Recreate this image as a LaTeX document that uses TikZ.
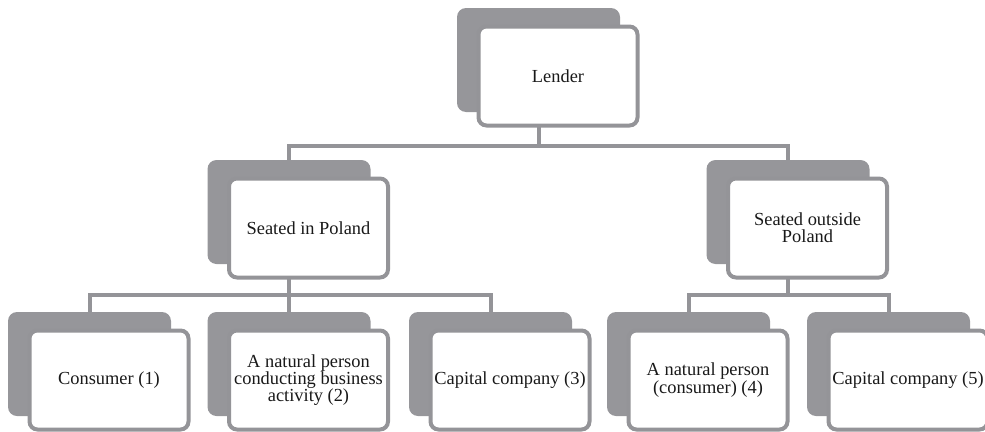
\documentclass[tikz,border=0pt]{standalone}
\usepackage{fontspec}
\setmainfont{Liberation Serif}
\usetikzlibrary{backgrounds}
\definecolor{boxgray}{RGB}{150,150,154}
\definecolor{linegray}{RGB}{148,148,152}
\tikzset{
 backbox/.style={rectangle, rounded corners=9pt, fill=boxgray, minimum width=163pt, minimum height=104pt, inner sep=0pt, outer sep=0pt},
 frontbox/.style={rectangle, rounded corners=8pt, draw=linegray, line width=4pt, fill=white, minimum width=159pt, minimum height=99pt, inner sep=0pt, outer sep=0pt, align=center, text=black!90, font=\fontsize{18.4}{17.3}\selectfont},
 conn/.style={draw=linegray, line width=4pt}
}
\begin{document}
\begin{tikzpicture}[x=1pt,y=-1pt]
\useasboundingbox (0,0) rectangle (985,431);
% back boxes
\node[backbox] (lenderB) at (538.5,60) {};
\node[backbox] (plB) at (289,212) {};
\node[backbox] (opB) at (788,212) {};
\node[backbox] (c1B) at (89.5,364) {};
\node[backbox] (c2B) at (289,364) {};
\node[backbox] (c3B) at (490.5,364) {};
\node[backbox] (c4B) at (688.5,364) {};
\node[backbox] (c5B) at (888.5,364) {};
% front boxes
\node[frontbox, xshift=19.5pt, yshift=-16pt] (lenderF) at (lenderB.center) {Lender};
\node[frontbox, xshift=19.5pt, yshift=-16pt] (plF) at (plB.center) {Seated in Poland};
\node[frontbox, xshift=19.5pt, yshift=-16pt] (opF) at (opB.center) {Seated outside\\Poland};
\node[frontbox, xshift=19.5pt, yshift=-16pt] (c1F) at (c1B.center) {Consumer (1)};
\node[frontbox, xshift=19.5pt, yshift=-16pt] (c2F) at (c2B.center) {A natural person\\conducting business\\activity (2)};
\node[frontbox, xshift=19.5pt, yshift=-16pt] (c3F) at (c3B.center) {Capital company (3)};
\node[frontbox, xshift=19.5pt, yshift=-16pt] (c4F) at (c4B.center) {A natural person\\(consumer) (4)};
\node[frontbox, xshift=19.5pt, yshift=-16pt] (c5F) at (c5B.center) {Capital company (5)};
% junctions
\coordinate (j0) at (538.5,146);
\coordinate (j1) at (289,295);
\coordinate (j2) at (788,295);
\begin{scope}[on background layer]
\draw[conn] (lenderB.south) -- (j0);
\draw[conn] (j0) -| (plB.north);
\draw[conn] (j0) -| (opB.north);
\draw[conn] (plB.south) -- (j1);
\draw[conn] (j1) -| (c1B.north);
\draw[conn] (j1) -- (c2B.north);
\draw[conn] (j1) -| (c3B.north);
\draw[conn] (opB.south) -- (j2);
\draw[conn] (j2) -| (c4B.north);
\draw[conn] (j2) -| (c5B.north);
\end{scope}
\end{tikzpicture}
\end{document}
